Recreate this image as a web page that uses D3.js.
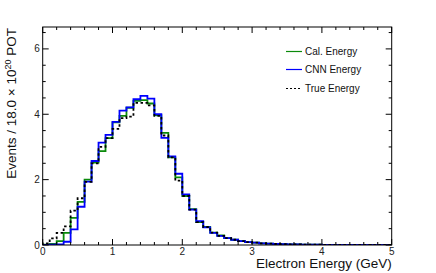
<!DOCTYPE html>
<meta charset="utf-8">
<style>
  body { margin: 0; background: #fff; }
  text { font-family: "Liberation Sans", Arial, sans-serif; }
</style>
<svg width="436" height="273"></svg>
<script src="https://d3js.org/d3.v7.min.js"></script>
<script>
// 50 bins of 0.1 GeV from 0 to 5
var binEdges = d3.range(0, 51).map(function (i) { return i / 10 })

var calEnergy = [0.01,0.03,0.12,0.37,0.83,1.32,2.00,2.52,2.87,3.27,3.75,3.95,4.20,4.41,4.43,4.33,3.97,3.43,2.68,2.07,
  1.50,1.10,0.70,0.55,0.38,0.29,0.21,0.16,0.12,0.09,0.07,0.05,0.04,0.03,0.025,0.02,0.015,0.012,0.01,0.008,
  0.006,0.005,0.004,0.003,0.003,0.002,0.002,0.001,0.001,0.001]
var cnnEnergy = [0.00,0.01,0.02,0.10,0.48,1.17,1.94,2.57,3.13,3.37,3.77,4.11,4.21,4.46,4.56,4.48,4.00,3.28,2.71,2.18,
  1.55,1.08,0.73,0.54,0.37,0.28,0.21,0.16,0.12,0.09,0.07,0.05,0.04,0.03,0.025,0.02,0.015,0.012,0.01,0.008,
  0.006,0.005,0.004,0.003,0.003,0.002,0.002,0.001,0.001,0.001]
var trueEnergy = [0.05,0.20,0.37,0.57,1.05,1.43,1.93,2.50,3.00,3.27,3.55,3.88,3.93,4.35,4.35,4.27,3.95,3.35,2.68,1.97,
  1.50,1.08,0.70,0.55,0.38,0.28,0.21,0.16,0.12,0.09,0.07,0.05,0.04,0.03,0.025,0.02,0.015,0.012,0.01,0.008,
  0.006,0.005,0.004,0.003,0.003,0.002,0.002,0.001,0.001,0.001]

var seriesNames = ["Cal. Energy", "CNN Energy", "True Energy"]
var xTicks = [0, 1, 2, 3, 4, 5]
var yTicks = [0, 2, 4, 6]

var svg = d3.select("svg")
var padL = 42.7, padR = 391.7, padT = 27, padB = 245

var x = d3.scaleLinear().domain([0, 5]).range([padL, padR])
var y = d3.scaleLinear().domain([0, 6.67]).range([padB, padT])

var series = [
  { name: seriesNames[0], values: calEnergy, color: "#0b8a0b", dash: null },
  { name: seriesNames[1], values: cnnEnergy, color: "#0000ff", dash: null },
  { name: seriesNames[2], values: trueEnergy, color: "#000000", dash: "2.5,2.5" }
]

var line = d3.line()
  .x(function (d) { return x(d[0]) })
  .y(function (d) { return y(d[1]) })
  .curve(d3.curveStepAfter)

function stepPoints(values) {
  var pts = [[0, 0]]
  values.forEach(function (v, i) { pts.push([binEdges[i], v]) })
  pts.push([5, values[values.length - 1]])
  return pts
}

// histograms, clipped to frame
svg.append("clipPath").attr("id", "clip")
  .append("rect").attr("x", padL).attr("y", padT).attr("width", padR - padL).attr("height", padB - padT)

svg.append("g").attr("clip-path", "url(#clip)")
  .selectAll("path")
  .data(series)
  .enter().append("path")
    .attr("d", function (s) { return line(stepPoints(s.values)) })
    .attr("fill", "none")
    .attr("stroke", function (s) { return s.color })
    .attr("stroke-width", 1.8)
    .attr("stroke-dasharray", function (s) { return s.dash })

// frame
svg.append("rect")
  .attr("x", padL).attr("y", padT)
  .attr("width", padR - padL).attr("height", padB - padT)
  .attr("fill", "none").attr("stroke", "#000").attr("stroke-width", 1)

// ticks: x minor every 0.2, y minor every 0.5 (ROOT style, inward on all sides)
var ticks = svg.append("g").attr("stroke", "#000").attr("stroke-width", 1)
d3.range(0, 26).forEach(function (i) {
  var v = i * 0.2, major = (i % 5 === 0), len = major ? 6 : 3
  ticks.append("line").attr("x1", x(v)).attr("x2", x(v)).attr("y1", padB).attr("y2", padB - len)
  ticks.append("line").attr("x1", x(v)).attr("x2", x(v)).attr("y1", padT).attr("y2", padT + len)
})
d3.range(0, 14).forEach(function (i) {
  var v = i * 0.5, major = (i % 4 === 0), len = major ? 6 : 3
  if (y(v) < padT) return
  ticks.append("line").attr("x1", padL).attr("x2", padL + len).attr("y1", y(v)).attr("y2", y(v))
  ticks.append("line").attr("x1", padR).attr("x2", padR - len).attr("y1", y(v)).attr("y2", y(v))
})

// tick labels
svg.append("g").selectAll("text")
  .data(xTicks)
  .enter().append("text")
    .attr("x", function (d) { return x(d) })
    .attr("y", padB + 9.5)
    .attr("text-anchor", "middle")
    .attr("font-size", 10)
    .attr("fill", "#222")
    .text(function (d) { return d })

svg.append("g").selectAll("text")
  .data(yTicks)
  .enter().append("text")
    .attr("x", padL - 3)
    .attr("y", function (d) { return y(d) + 3.5 })
    .attr("text-anchor", "end")
    .attr("font-size", 10)
    .attr("fill", "#222")
    .text(function (d) { return d })

// axis titles
svg.append("text")
  .attr("x", padR)
  .attr("y", 268)
  .attr("text-anchor", "end")
  .attr("font-size", 13.5)
  .attr("fill", "#111")
  .text("Electron Energy (GeV)")

var yTitle = svg.append("text")
  .attr("transform", "translate(16," + (padT + 1) + ") rotate(-90)")
  .attr("text-anchor", "end")
  .attr("font-size", 13.5)
  .attr("fill", "#111")
yTitle.append("tspan").text("Events / 18.0 \u00d7 10")
yTitle.append("tspan").attr("font-size", 9).attr("dy", -5).text("20")
yTitle.append("tspan").attr("dy", 5).text(" POT")

// legend
var legend = svg.append("g")
series.forEach(function (s, i) {
  var ly = [51.5, 69.5, 88.5][i]
  legend.append("line")
    .attr("x1", 286).attr("x2", 302).attr("y1", ly).attr("y2", ly)
    .attr("stroke", s.color).attr("stroke-width", 1.2)
    .attr("stroke-dasharray", s.dash ? "2,2" : null)
  legend.append("text")
    .attr("x", 305).attr("y", ly + 3.5)
    .attr("font-size", 10)
    .attr("fill", "#111")
    .text(s.name)
})
</script>
